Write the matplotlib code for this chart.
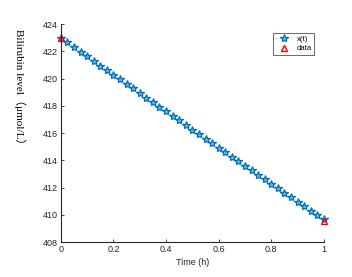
import matplotlib
matplotlib.use("Agg")
import matplotlib.pyplot as plt

# model curve x(t), sampled every 0.025 h
t = [i * 0.025 for i in range(41)]
x_t = [423.00, 422.66, 422.32, 421.98, 421.64, 421.30, 420.96, 420.62, 420.29,
       419.95, 419.61, 419.28, 418.94, 418.60, 418.27, 417.93, 417.60, 417.26,
       416.93, 416.59, 416.26, 415.93, 415.59, 415.26, 414.93, 414.59, 414.26,
       413.93, 413.60, 413.27, 412.94, 412.61, 412.28, 411.95, 411.62, 411.29,
       410.96, 410.64, 410.31, 409.98, 409.66]

# measured data
t_data = [0, 1]
y_data = [423.0, 409.55]

xticks = [0, 0.2, 0.4, 0.6, 0.8, 1]
yticks = [408, 410, 412, 414, 416, 418, 420, 422, 424]

plt.rcParams['font.family'] = ['Liberation Sans', 'DejaVu Sans']

fig = plt.figure(figsize=(3.52, 2.77), dpi=100)
ax = fig.add_axes([0.173, 0.126, 0.747, 0.787])

# faint connecting line + outlined stars
ax.plot(t, x_t, linestyle='--', color='#9cc6e8', linewidth=0.4, clip_on=False)
ax.plot(t, x_t, linestyle='none', marker='*', markersize=6,
        markerfacecolor='#6fb0e6', markeredgecolor='#0072BD',
        markeredgewidth=0.9, clip_on=False)
ax.plot(t_data, y_data, linestyle='none', marker='^', markersize=5,
        markerfacecolor='none', markeredgecolor='red', markeredgewidth=1.0,
        clip_on=False)

# legend proxies
h1, = ax.plot([], [], linestyle='--', color='#9cc6e8', linewidth=0.5,
              marker='*', markersize=6, markerfacecolor='#6fb0e6',
              markeredgecolor='#0072BD', markeredgewidth=0.9, label='x(t)')
h2, = ax.plot([], [], linestyle='none', marker='^', markersize=5,
              markerfacecolor='none', markeredgecolor='red',
              markeredgewidth=1.0, label='data')

ax.set_xlim(0, 1)
ax.set_ylim(408, 424)
ax.set_xticks(xticks)
ax.set_xticklabels(['0', '0.2', '0.4', '0.6', '0.8', '1'])
ax.set_yticks(yticks)

for s in ['top', 'right']:
    ax.spines[s].set_visible(False)
for s in ['left', 'bottom']:
    ax.spines[s].set_linewidth(0.8)
    ax.spines[s].set_color('#262626')

ax.tick_params(direction='in', length=2.5, width=0.6, labelsize=6.5,
               colors='#262626', pad=2)

ax.set_xlabel('Time (h)', fontsize=6.5, color='#262626', labelpad=3)
fig.text(20 / 352, 1 - 89 / 277, 'Bilirubin level（μmol/L）', fontsize=8,
         rotation=270, ha='center', va='center',
         family=['Liberation Serif', 'Noto Sans CJK SC'])

leg = ax.legend(handles=[h1, h2], loc='upper right',
                bbox_to_anchor=(0.977, 0.977), fontsize=5.5,
                frameon=True, fancybox=False, handlelength=2.2,
                borderpad=0.3, labelspacing=0.3, handletextpad=0.6)
leg.get_frame().set_edgecolor('#262626')
leg.get_frame().set_linewidth(0.6)

fig.savefig('out.png', dpi=100)
